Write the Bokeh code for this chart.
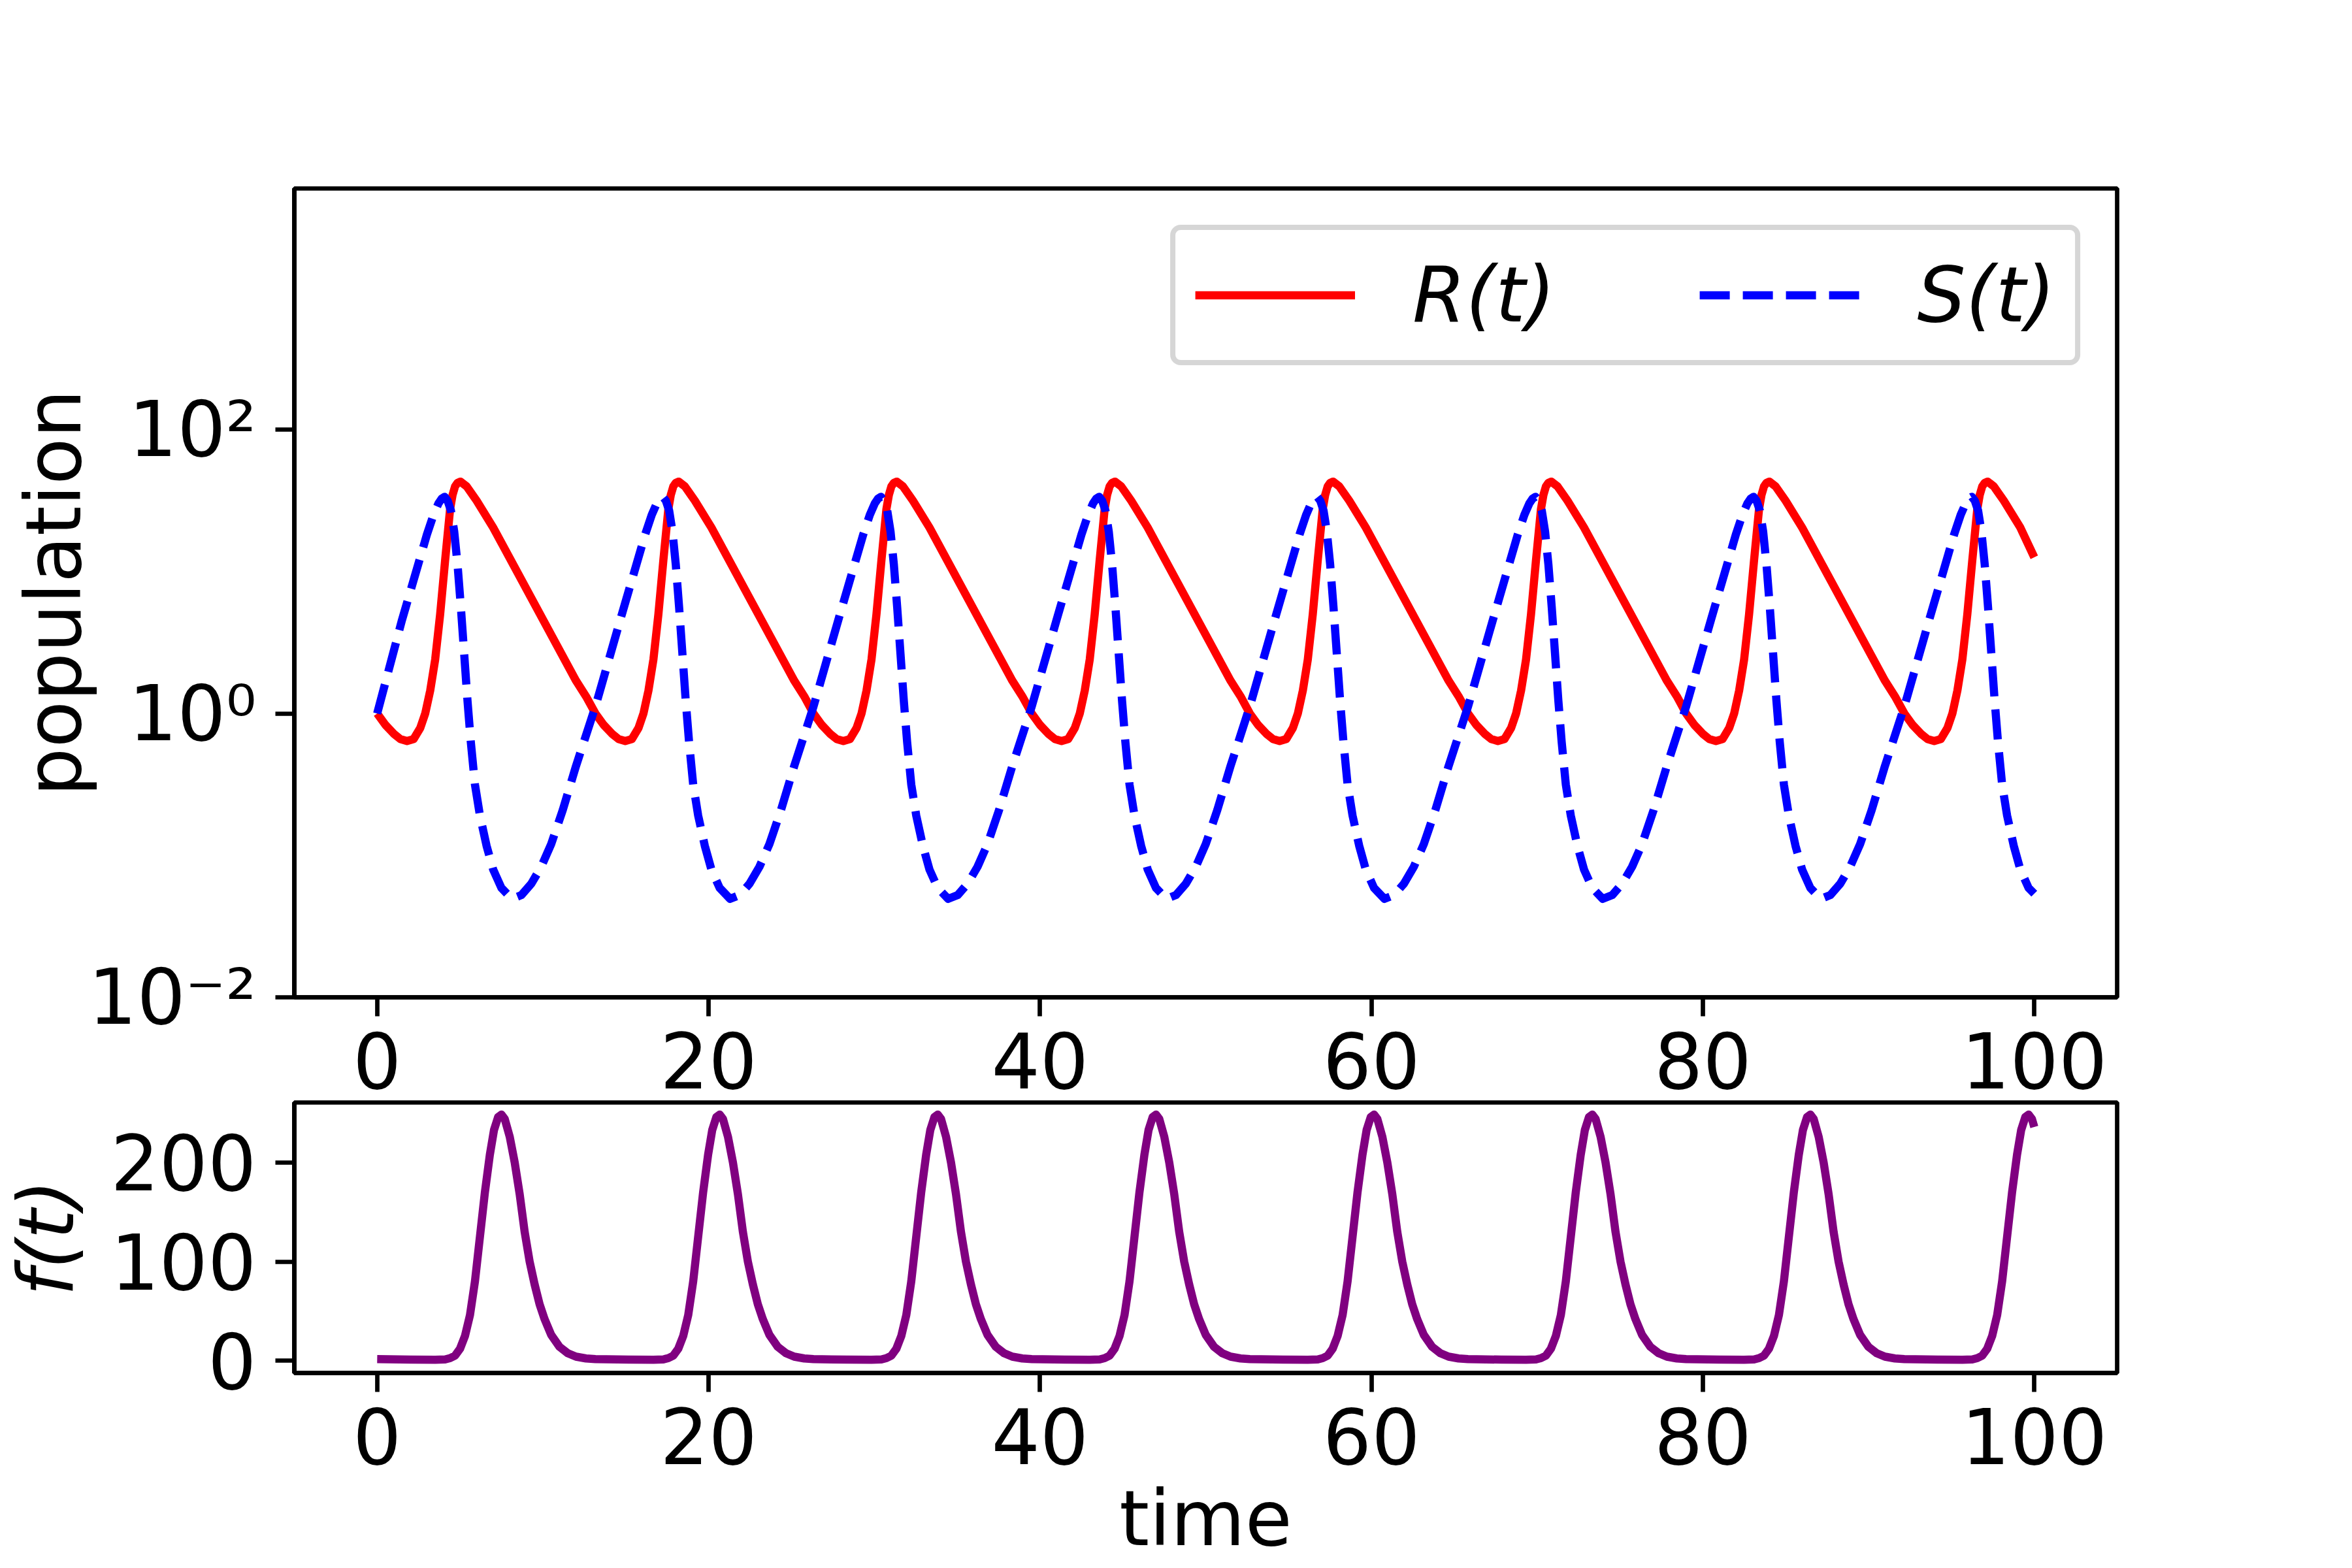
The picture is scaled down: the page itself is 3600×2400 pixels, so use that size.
from bokeh.plotting import figure
from bokeh.layouts import column
from bokeh.models import Range1d, FixedTicker
from bokeh.embed import file_html
from bokeh.resources import INLINE

# ---------------- data ----------------
X_TICKS = [0, 20, 40, 60, 80, 100]
POP_TICKS = [0.01, 1, 100]
POP_LABELS = {0.01: "10\u207b\u00b2", 1: "10\u2070", 100: "10\u00b2"}
F_TICKS = [0, 100, 200]

# R(t): red solid line
R_t = [
    0.0, 0.5, 1.0, 1.4, 1.8, 2.2, 2.6, 2.9, 3.2, 3.5, 3.8, 4.1, 4.4, 4.55, 4.7, 4.85, 5.03, 5.4, 6.0, 7.0, 12.0, 12.6,
    13.17, 13.67, 14.17, 14.57, 14.97, 15.37, 15.77, 16.07, 16.37, 16.67, 16.97, 17.27, 17.57, 17.72, 17.87, 18.02, 18.2, 18.57, 19.17, 20.17, 25.17, 25.77,
    26.33, 26.83, 27.33, 27.73, 28.13, 28.53, 28.93, 29.23, 29.53, 29.83, 30.13, 30.43, 30.73, 30.88, 31.03, 31.18, 31.36, 31.73, 32.33, 33.33, 38.33, 38.93,
    39.5, 40.0, 40.5, 40.9, 41.3, 41.7, 42.1, 42.4, 42.7, 43.0, 43.3, 43.6, 43.9, 44.05, 44.2, 44.35, 44.53, 44.9, 45.5, 46.5, 51.5, 52.1,
    52.66, 53.16, 53.66, 54.06, 54.46, 54.86, 55.26, 55.56, 55.86, 56.16, 56.46, 56.76, 57.06, 57.21, 57.36, 57.51, 57.69, 58.06, 58.66, 59.66, 64.66, 65.26,
    65.83, 66.33, 66.83, 67.23, 67.63, 68.03, 68.43, 68.73, 69.03, 69.33, 69.63, 69.93, 70.23, 70.38, 70.53, 70.68, 70.86, 71.23, 71.83, 72.83, 77.83, 78.43,
    78.99, 79.49, 79.99, 80.39, 80.79, 81.19, 81.59, 81.89, 82.19, 82.49, 82.79, 83.09, 83.39, 83.54, 83.69, 83.84, 84.02, 84.39, 84.99, 85.99, 90.99, 91.59,
    92.16, 92.66, 93.16, 93.56, 93.96, 94.36, 94.76, 95.06, 95.36, 95.66, 95.96, 96.26, 96.56, 96.71, 96.86, 97.01, 97.19, 97.56, 98.16, 99.16, 100.0,
]
R_val = [
    1.0, 0.83, 0.72, 0.66, 0.64, 0.66, 0.79, 1.0, 1.45, 2.4, 5.0, 12.0, 27.5, 34.7, 39.8, 42.2, 43.0, 39.8, 31.6, 20.4, 1.70, 1.32,
    1.0, 0.83, 0.72, 0.66, 0.64, 0.66, 0.79, 1.0, 1.45, 2.4, 5.0, 12.0, 27.5, 34.7, 39.8, 42.2, 43.0, 39.8, 31.6, 20.4, 1.70, 1.32,
    1.0, 0.83, 0.72, 0.66, 0.64, 0.66, 0.79, 1.0, 1.45, 2.4, 5.0, 12.0, 27.5, 34.7, 39.8, 42.2, 43.0, 39.8, 31.6, 20.4, 1.70, 1.32,
    1.0, 0.83, 0.72, 0.66, 0.64, 0.66, 0.79, 1.0, 1.45, 2.4, 5.0, 12.0, 27.5, 34.7, 39.8, 42.2, 43.0, 39.8, 31.6, 20.4, 1.70, 1.32,
    1.0, 0.83, 0.72, 0.66, 0.64, 0.66, 0.79, 1.0, 1.45, 2.4, 5.0, 12.0, 27.5, 34.7, 39.8, 42.2, 43.0, 39.8, 31.6, 20.4, 1.70, 1.32,
    1.0, 0.83, 0.72, 0.66, 0.64, 0.66, 0.79, 1.0, 1.45, 2.4, 5.0, 12.0, 27.5, 34.7, 39.8, 42.2, 43.0, 39.8, 31.6, 20.4, 1.70, 1.32,
    1.0, 0.83, 0.72, 0.66, 0.64, 0.66, 0.79, 1.0, 1.45, 2.4, 5.0, 12.0, 27.5, 34.7, 39.8, 42.2, 43.0, 39.8, 31.6, 20.4, 1.70, 1.32,
    1.0, 0.83, 0.72, 0.66, 0.64, 0.66, 0.79, 1.0, 1.45, 2.4, 5.0, 12.0, 27.5, 34.7, 39.8, 42.2, 43.0, 39.8, 31.6, 20.4, 12.6,
]

# S(t): blue dashed line
S_t = [
    0.0, 1.5, 3.0, 3.4, 3.7, 3.9, 4.07, 4.25, 4.45, 4.65, 4.85, 5.05, 5.25, 5.45, 5.65, 5.9, 6.2, 6.6, 7.0, 7.5, 8.13, 8.7, 9.3, 9.9, 10.5, 11.2, 12.0,
    13.17, 14.67, 16.17, 16.57, 16.87, 17.07, 17.24, 17.42, 17.62, 17.82, 18.02, 18.22, 18.42, 18.62, 18.82, 19.07, 19.37, 19.77, 20.17, 20.67, 21.3, 21.87, 22.47, 23.07, 23.67, 24.37, 25.17,
    26.33, 27.83, 29.33, 29.73, 30.03, 30.23, 30.4, 30.58, 30.78, 30.98, 31.18, 31.38, 31.58, 31.78, 31.98, 32.23, 32.53, 32.93, 33.33, 33.83, 34.46, 35.03, 35.63, 36.23, 36.83, 37.53, 38.33,
    39.5, 41.0, 42.5, 42.9, 43.2, 43.4, 43.57, 43.75, 43.95, 44.15, 44.35, 44.55, 44.75, 44.95, 45.15, 45.4, 45.7, 46.1, 46.5, 47.0, 47.63, 48.2, 48.8, 49.4, 50.0, 50.7, 51.5,
    52.66, 54.16, 55.66, 56.06, 56.36, 56.56, 56.73, 56.91, 57.11, 57.31, 57.51, 57.71, 57.91, 58.11, 58.31, 58.56, 58.86, 59.26, 59.66, 60.16, 60.79, 61.36, 61.96, 62.56, 63.16, 63.86, 64.66,
    65.83, 67.33, 68.83, 69.23, 69.53, 69.73, 69.9, 70.08, 70.28, 70.48, 70.68, 70.88, 71.08, 71.28, 71.48, 71.73, 72.03, 72.43, 72.83, 73.33, 73.96, 74.53, 75.13, 75.73, 76.33, 77.03, 77.83,
    78.99, 80.49, 81.99, 82.39, 82.69, 82.89, 83.06, 83.24, 83.44, 83.64, 83.84, 84.04, 84.24, 84.44, 84.64, 84.89, 85.19, 85.59, 85.99, 86.49, 87.12, 87.69, 88.29, 88.89, 89.49, 90.19, 90.99,
    92.16, 93.66, 95.16, 95.56, 95.86, 96.06, 96.23, 96.41, 96.61, 96.81, 97.01, 97.21, 97.41, 97.61, 97.81, 98.06, 98.36, 98.76, 99.16, 99.66, 100.0,
]
S_val = [
    1.0, 4.57, 18.2, 25.1, 30.2, 32.7, 33.6, 31.6, 26.9, 19.1, 11.2, 5.62, 2.63, 1.23, 0.631, 0.316, 0.191, 0.117, 0.0794, 0.0589, 0.0494, 0.0525, 0.0631, 0.0832, 0.120, 0.209, 0.427,
    1.12, 4.57, 18.2, 25.1, 30.2, 32.7, 33.6, 31.6, 26.9, 19.1, 11.2, 5.62, 2.63, 1.23, 0.631, 0.316, 0.191, 0.117, 0.0794, 0.0589, 0.0494, 0.0525, 0.0631, 0.0832, 0.120, 0.209, 0.427,
    1.12, 4.57, 18.2, 25.1, 30.2, 32.7, 33.6, 31.6, 26.9, 19.1, 11.2, 5.62, 2.63, 1.23, 0.631, 0.316, 0.191, 0.117, 0.0794, 0.0589, 0.0494, 0.0525, 0.0631, 0.0832, 0.120, 0.209, 0.427,
    1.12, 4.57, 18.2, 25.1, 30.2, 32.7, 33.6, 31.6, 26.9, 19.1, 11.2, 5.62, 2.63, 1.23, 0.631, 0.316, 0.191, 0.117, 0.0794, 0.0589, 0.0494, 0.0525, 0.0631, 0.0832, 0.120, 0.209, 0.427,
    1.12, 4.57, 18.2, 25.1, 30.2, 32.7, 33.6, 31.6, 26.9, 19.1, 11.2, 5.62, 2.63, 1.23, 0.631, 0.316, 0.191, 0.117, 0.0794, 0.0589, 0.0494, 0.0525, 0.0631, 0.0832, 0.120, 0.209, 0.427,
    1.12, 4.57, 18.2, 25.1, 30.2, 32.7, 33.6, 31.6, 26.9, 19.1, 11.2, 5.62, 2.63, 1.23, 0.631, 0.316, 0.191, 0.117, 0.0794, 0.0589, 0.0494, 0.0525, 0.0631, 0.0832, 0.120, 0.209, 0.427,
    1.12, 4.57, 18.2, 25.1, 30.2, 32.7, 33.6, 31.6, 26.9, 19.1, 11.2, 5.62, 2.63, 1.23, 0.631, 0.316, 0.191, 0.117, 0.0794, 0.0589, 0.0494, 0.0525, 0.0631, 0.0832, 0.120, 0.209, 0.427,
    1.12, 4.57, 18.2, 25.1, 30.2, 32.7, 33.6, 31.6, 26.9, 19.1, 11.2, 5.62, 2.63, 1.23, 0.631, 0.316, 0.191, 0.117, 0.0794, 0.0589, 0.0537,
]

# f(t): purple line (bottom panel)
F_t = [
    0.0, 2.0, 3.5, 4.1, 4.4, 4.7, 5.0, 5.3, 5.6, 5.9, 6.2, 6.5, 6.8, 7.05, 7.3, 7.5, 7.7, 8.0, 8.3, 8.6, 8.9, 9.2, 9.5, 9.8, 10.1, 10.5, 11.0, 11.5, 12.0, 12.6,
    13.17, 15.17, 16.67, 17.27, 17.57, 17.87, 18.17, 18.47, 18.77, 19.07, 19.37, 19.67, 19.97, 20.22, 20.47, 20.67, 20.87, 21.17, 21.47, 21.77, 22.07, 22.37, 22.67, 22.97, 23.27, 23.67, 24.17, 24.67, 25.17, 25.77,
    26.33, 28.33, 29.83, 30.43, 30.73, 31.03, 31.33, 31.63, 31.93, 32.23, 32.53, 32.83, 33.13, 33.38, 33.63, 33.83, 34.03, 34.33, 34.63, 34.93, 35.23, 35.53, 35.83, 36.13, 36.43, 36.83, 37.33, 37.83, 38.33, 38.93,
    39.5, 41.5, 43.0, 43.6, 43.9, 44.2, 44.5, 44.8, 45.1, 45.4, 45.7, 46.0, 46.3, 46.55, 46.8, 47.0, 47.2, 47.5, 47.8, 48.1, 48.4, 48.7, 49.0, 49.3, 49.6, 50.0, 50.5, 51.0, 51.5, 52.1,
    52.66, 54.66, 56.16, 56.76, 57.06, 57.36, 57.66, 57.96, 58.26, 58.56, 58.86, 59.16, 59.46, 59.71, 59.96, 60.16, 60.36, 60.66, 60.96, 61.26, 61.56, 61.86, 62.16, 62.46, 62.76, 63.16, 63.66, 64.16, 64.66, 65.26,
    65.83, 67.83, 69.33, 69.93, 70.23, 70.53, 70.83, 71.13, 71.43, 71.73, 72.03, 72.33, 72.63, 72.88, 73.13, 73.33, 73.53, 73.83, 74.13, 74.43, 74.73, 75.03, 75.33, 75.63, 75.93, 76.33, 76.83, 77.33, 77.83, 78.43,
    78.99, 80.99, 82.49, 83.09, 83.39, 83.69, 83.99, 84.29, 84.59, 84.89, 85.19, 85.49, 85.79, 86.04, 86.29, 86.49, 86.69, 86.99, 87.29, 87.59, 87.89, 88.19, 88.49, 88.79, 89.09, 89.49, 89.99, 90.49, 90.99, 91.59,
    92.16, 94.16, 95.66, 96.26, 96.56, 96.86, 97.16, 97.46, 97.76, 98.06, 98.36, 98.66, 98.96, 99.21, 99.46, 99.66, 99.86, 100.0,
]
F_val = [
    1.5, 1.0, 0.8, 1.2, 2.5, 5.0, 12, 25, 46, 80, 125, 170, 208, 233, 246, 248.5, 244, 226, 200, 168, 130, 100, 77, 57, 42, 26, 14, 7.5, 4.0, 2.2,
    1.5, 1.0, 0.8, 1.2, 2.5, 5.0, 12, 25, 46, 80, 125, 170, 208, 233, 246, 248.5, 244, 226, 200, 168, 130, 100, 77, 57, 42, 26, 14, 7.5, 4.0, 2.2,
    1.5, 1.0, 0.8, 1.2, 2.5, 5.0, 12, 25, 46, 80, 125, 170, 208, 233, 246, 248.5, 244, 226, 200, 168, 130, 100, 77, 57, 42, 26, 14, 7.5, 4.0, 2.2,
    1.5, 1.0, 0.8, 1.2, 2.5, 5.0, 12, 25, 46, 80, 125, 170, 208, 233, 246, 248.5, 244, 226, 200, 168, 130, 100, 77, 57, 42, 26, 14, 7.5, 4.0, 2.2,
    1.5, 1.0, 0.8, 1.2, 2.5, 5.0, 12, 25, 46, 80, 125, 170, 208, 233, 246, 248.5, 244, 226, 200, 168, 130, 100, 77, 57, 42, 26, 14, 7.5, 4.0, 2.2,
    1.5, 1.0, 0.8, 1.2, 2.5, 5.0, 12, 25, 46, 80, 125, 170, 208, 233, 246, 248.5, 244, 226, 200, 168, 130, 100, 77, 57, 42, 26, 14, 7.5, 4.0, 2.2,
    1.5, 1.0, 0.8, 1.2, 2.5, 5.0, 12, 25, 46, 80, 125, 170, 208, 233, 246, 248.5, 244, 226, 200, 168, 130, 100, 77, 57, 42, 26, 14, 7.5, 4.0, 2.2,
    1.5, 1.0, 0.8, 1.2, 2.5, 5.0, 12, 25, 46, 80, 125, 170, 208, 233, 246, 248.5, 244, 236,
]

# ---------------- styling ----------------
FONT = "DejaVu Sans"
FS = "117px"
LW = 12.5
AXW = 6.7
TICK = 29
W = 3598
FRAME_L = 450
FRAME_R = 3240
TOP1 = 288
FRAME1_H = 1238
BOT1 = 200
H1 = TOP1 + FRAME1_H + BOT1
TOP2 = 10
FRAME2_Y = 1687
FRAME2_H = 414
P2_Y = FRAME2_Y - TOP2
H2 = 2398 - P2_Y


def style(p):
    p.outline_line_color = "black"
    p.outline_line_width = AXW
    p.background_fill_color = "white"
    p.xgrid.visible = False
    p.ygrid.visible = False
    for ax in p.axis:
        ax.axis_line_color = "black"
        ax.axis_line_width = AXW
        ax.major_tick_line_color = "black"
        ax.major_tick_line_width = AXW
        ax.major_tick_out = TICK
        ax.major_tick_in = 0
        ax.minor_tick_line_color = None
        ax.major_label_text_font = FONT
        ax.major_label_text_font_size = FS
        ax.major_label_text_color = "black"
        ax.axis_label_text_font = FONT
        ax.axis_label_text_font_size = FS
        ax.axis_label_text_color = "black"
        ax.axis_label_text_font_style = "normal"


p1 = figure(width=W, height=H1, x_range=Range1d(-5, 105), y_range=Range1d(0.01, 5000),
            y_axis_type="log", output_backend="svg", toolbar_location=None,
            min_border_left=FRAME_L, min_border_right=W - FRAME_R, min_border_top=TOP1, min_border_bottom=BOT1)
p1.border_fill_color = "white"
p1.line(R_t, R_val, line_color="red", line_width=LW, line_join="round", legend_label="R(t)")
p1.line(S_t, S_val, line_color="blue", line_width=LW, line_dash="46 20", line_join="round", legend_label="S(t)")
style(p1)
p1.xaxis.ticker = FixedTicker(ticks=X_TICKS)
p1.xaxis.major_label_standoff = 24
p1.yaxis.ticker = FixedTicker(ticks=POP_TICKS)
p1.yaxis.major_label_overrides = POP_LABELS
p1.yaxis.major_label_standoff = 29
p1.yaxis.axis_label = "population"
p1.yaxis.axis_label_standoff = -19

leg = p1.legend[0]
leg.orientation = "horizontal"
leg.location = "top_right"
leg.margin = 56
leg.padding = 30
leg.spacing = 221
leg.glyph_width = 245
leg.glyph_height = 139
leg.label_height = 139
leg.label_standoff = 88
leg.label_text_font = FONT
leg.label_text_font_size = FS
leg.label_text_font_style = "italic"
leg.label_text_color = "black"
leg.border_line_color = "#cccccc"
leg.border_line_width = 8
leg.border_line_alpha = 0.8
leg.background_fill_color = "white"
leg.background_fill_alpha = 0.8
if "border_radius" in leg.properties():
    leg.border_radius = 16

p2 = figure(width=W, height=H2, x_range=Range1d(-5, 105), y_range=Range1d(-12.5, 260.7),
            output_backend="svg", toolbar_location=None,
            min_border_left=FRAME_L, min_border_right=W - FRAME_R, min_border_top=TOP2,
            min_border_bottom=H2 - TOP2 - FRAME2_H)
p2.border_fill_color = None
p2.line(F_t, F_val, line_color="purple", line_width=LW, line_join="round")
style(p2)
p2.xaxis.ticker = FixedTicker(ticks=X_TICKS)
p2.xaxis.major_label_standoff = 24
p2.xaxis.axis_label = "time"
p2.xaxis.axis_label_standoff = 12
p2.yaxis.ticker = FixedTicker(ticks=F_TICKS)
p2.yaxis.major_label_standoff = 29
p2.yaxis.axis_label = "f(t)"
p2.yaxis.axis_label_text_font_style = "italic"
p2.yaxis.axis_label_standoff = 26
p2.styles = {"margin-top": "%dpx" % (P2_Y - H1)}

layout = column(p1, p2)
open("out.html", "w").write(file_html(layout, INLINE))
